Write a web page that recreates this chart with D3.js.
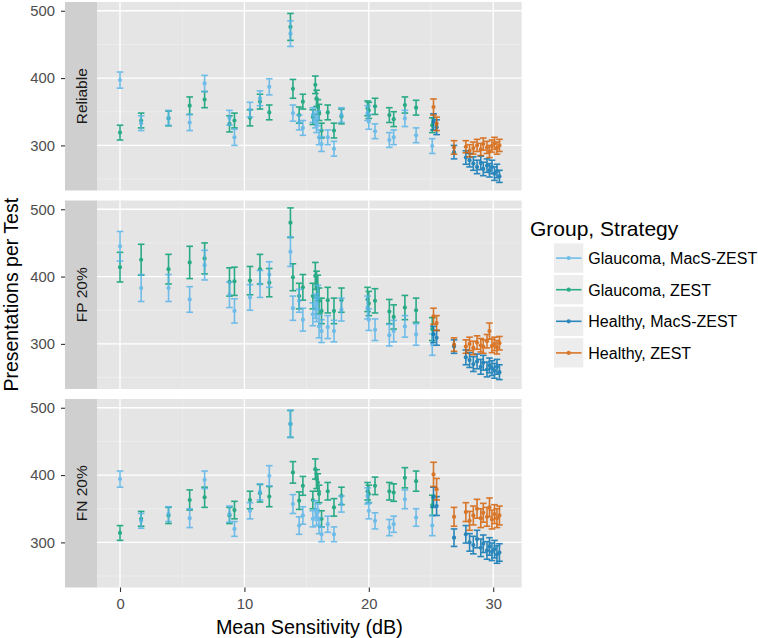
<!DOCTYPE html>
<html><head><meta charset="utf-8">
<script src="https://cdn.jsdelivr.net/npm/d3@7"></script>
<style>body{margin:0;background:#fff}svg{display:block;font-family:"Liberation Sans",Arial,Helvetica,sans-serif}</style>
</head><body><svg id="c" width="758" height="638"></svg>
<script>
const panels = ["Reliable", "FP 20%", "FN 20%"];
const groups = ["Glaucoma, MacS-ZEST", "Glaucoma, ZEST", "Healthy, MacS-ZEST", "Healthy, ZEST"];
const colors = ["#56B4E9", "#009E73", "#0072B2", "#D55E00"];
const drawOrder = [1, 0, 2, 3];
const xTicks = [0, 10, 20, 30];
const xMinor = [5, 15, 25];
const yTicks = [300, 400, 500];
const yMinor = [250, 350, 450];

// Mean sensitivity (dB) per subject
const glaucomaSens = [0, 1.7, 3.9, 5.6, 6.8, 8.8, 9.2, 10.45, 11.25, 12.0, 13.7, 13.9, 14.4, 14.7, 15.5, 15.7, 15.8, 15.9, 16.0, 16.2, 16.7, 17.2, 17.8, 19.9, 20.0, 20.5, 21.65, 22.0, 22.9, 23.8, 25.1];
const healthySens = [25.2, 25.45, 26.85, 27.8, 28.1, 28.4, 28.7, 29.0, 29.2, 29.5, 29.7, 29.9, 30.1, 30.3, 30.5];

// Reliable
const glaMacsReliable = [397, 333, 341, 334, 392, 341, 312, 353, 370, 387, 466, 348, 334, 326, 345, 337, 331, 340, 312, 302, 312, 295, 345, 348, 335, 321, 308, 312, 340, 315, 299];
const glaZestReliable = [319, 337, 340, 359, 368, 332, 337, 341, 365, 349, 476, 384, 345, 365, 342, 390, 370, 357, 349, 322, 349, 322, 343, 355, 352, 358, 345, 339, 360, 356, 330];
const heaMacsReliable = [335, 327, 290, 282, 278, 273, 268, 274, 265, 270, 263, 268, 258, 262, 254];
const heaZestReliable = [357, 332, 297, 298, 292, 296, 300, 294, 302, 297, 291, 299, 303, 296, 300];
// FP 20%
const glaMacsFP = [445, 383, 383, 366, 417, 373, 349, 369, 389, 403, 437, 353, 364, 336, 344, 356, 351, 369, 326, 319, 325, 319, 351, 354, 336, 321, 313, 319, 326, 314, 299];
const glaZestFP = [414, 425, 411, 421, 427, 392, 393, 394, 411, 391, 480, 399, 371, 384, 371, 401, 388, 383, 364, 349, 365, 349, 365, 366, 360, 364, 348, 340, 354, 350, 322];
const heaMacsFP = [314, 309, 296, 280, 276, 270, 274, 266, 272, 262, 268, 264, 260, 266, 258];
const heaZestFP = [341, 331, 299, 296, 300, 294, 302, 298, 296, 304, 319, 297, 300, 295, 301];
// FN 20%
const glaMacsFN = [394, 332, 342, 336, 393, 342, 320, 347, 375, 399, 476, 357, 325, 340, 335, 349, 337, 345, 325, 312, 327, 312, 357, 369, 347, 332, 322, 327, 364, 337, 325];
const glaZestFN = [314, 335, 340, 363, 367, 340, 348, 363, 373, 368, 476, 404, 362, 384, 363, 409, 394, 389, 372, 335, 376, 352, 369, 376, 372, 384, 376, 374, 396, 391, 355];
const heaMacsFN = [367, 354, 307, 312, 300, 296, 305, 292, 298, 288, 294, 286, 290, 282, 285];
const heaZestFN = [401, 379, 338, 345, 332, 340, 350, 336, 344, 338, 352, 334, 342, 336, 340];

// Error-bar half widths
const glaMacsReliableErr = [12,11,11,12,12,11,12,11,11,12,19,12,11,11,11,11,12,11,11,11,11,11,11,11,11,11,11,11,12,11,11];
const glaZestReliableErr = [11,11,11,13,12,12,11,12,11,11,20,14,12,11,11,13,12,11,12,11,11,11,11,11,12,12,11,11,12,11,11];
const heaMacsReliableErr = [12,11,10,10,10,10,10,10,10,10,10,10,10,10,9];
const heaZestReliableErr = [12,10,10,9,9,9,9,9,9,9,9,9,9,9,9];
const glaMacsFPErr = [22,20,20,19,22,19,18,19,20,19,22,18,17,17,17,18,18,18,17,17,17,16,17,17,16,16,16,16,16,16,16];
const glaZestFPErr = [22,23,22,24,23,21,21,21,22,21,22,20,19,19,19,20,20,19,19,19,19,19,18,18,18,18,18,18,18,18,17];
const heaMacsFPErr = [12,11,10,11,11,11,11,11,11,11,11,11,11,11,11];
const heaZestFPErr = [12,11,10,10,10,10,10,10,10,10,12,10,10,10,10];
const glaMacsFNErr = [12,11,11,14,13,12,11,12,12,15,20,14,13,13,12,13,12,12,12,11,12,11,12,12,12,12,12,12,14,13,15];
const glaZestFNErr = [11,11,12,15,15,12,13,13,13,15,20,16,13,14,13,15,14,13,13,12,13,13,13,13,13,13,13,13,15,15,15];
const heaMacsFNErr = [15,14,13,13,13,13,13,13,13,13,13,13,13,13,13];
const heaZestFNErr = [18,16,14,14,14,14,14,14,14,14,14,14,14,14,14];

const panelData = [
  [[glaucomaSens, glaMacsReliable, glaMacsReliableErr], [glaucomaSens, glaZestReliable, glaZestReliableErr], [healthySens, heaMacsReliable, heaMacsReliableErr], [healthySens, heaZestReliable, heaZestReliableErr]],
  [[glaucomaSens, glaMacsFP, glaMacsFPErr], [glaucomaSens, glaZestFP, glaZestFPErr], [healthySens, heaMacsFP, heaMacsFPErr], [healthySens, heaZestFP, heaZestFPErr]],
  [[glaucomaSens, glaMacsFN, glaMacsFNErr], [glaucomaSens, glaZestFN, glaZestFNErr], [healthySens, heaMacsFN, heaMacsFNErr], [healthySens, heaZestFN, heaZestFNErr]]
];

const svg = d3.select("#c");
const PL = 97, PR = 521.7, PH = 188.5;
const tops = [2, 200.5, 399];
const x = d3.scaleLinear().domain([-1.85, 32.29]).range([PL, PR]);
const y = d3.scaleLinear().domain([233, 513]).range([PH, 0]);
const alpha = 0.82;

panels.forEach((name, pi) => {
  const g = svg.append("g").attr("transform", `translate(0,${tops[pi]})`);
  g.append("rect").attr("x", PL).attr("y", 0).attr("width", PR - PL).attr("height", PH).attr("fill", "#E5E5E5");
  g.selectAll(".ym").data(yMinor).join("line").attr("x1", PL).attr("x2", PR)
    .attr("y1", d => y(d)).attr("y2", d => y(d)).attr("stroke", "#F2F2F2").attr("stroke-width", 0.6);
  g.selectAll(".xm").data(xMinor).join("line").attr("y1", 0).attr("y2", PH)
    .attr("x1", d => x(d)).attr("x2", d => x(d)).attr("stroke", "#F2F2F2").attr("stroke-width", 0.6);
  g.selectAll(".yM").data(yTicks).join("line").attr("x1", PL).attr("x2", PR)
    .attr("y1", d => y(d)).attr("y2", d => y(d)).attr("stroke", "#fff").attr("stroke-width", 1.3);
  g.selectAll(".xM").data(xTicks).join("line").attr("y1", 0).attr("y2", PH)
    .attr("x1", d => x(d)).attr("x2", d => x(d)).attr("stroke", "#fff").attr("stroke-width", 1.3);
  // strip
  g.append("rect").attr("x", 65).attr("y", 0).attr("width", PL - 65).attr("height", PH).attr("fill", "#CFCFCF");
  g.append("text").attr("transform", `translate(87,${PH / 2}) rotate(-90)`).attr("text-anchor", "middle")
    .attr("font-size", 15.5).attr("fill", "#1A1A1A").text(name);
  // y axis
  const ax = d3.axisLeft(y).tickValues(yTicks).tickSize(4).tickPadding(6);
  const ag = g.append("g").attr("transform", "translate(65,0)").call(ax);
  ag.select(".domain").remove();
  ag.selectAll(".tick line").attr("stroke", "#333").attr("stroke-width", 1.1);
  ag.selectAll(".tick text").attr("font-size", 14.8).attr("fill", "#4D4D4D").attr("font-family", "Liberation Sans, Arial, sans-serif");

  drawOrder.forEach(gi => {
    const [xs, vs, es] = panelData[pi][gi];
    const col = colors[gi];
    const sg = g.append("g").attr("opacity", alpha);
    xs.forEach((xv, i) => {
      const cx = x(xv), y1 = y(vs[i] - es[i]), y2 = y(vs[i] + es[i]);
      sg.append("line").attr("x1", cx).attr("x2", cx).attr("y1", y1).attr("y2", y2).attr("stroke", col).attr("stroke-width", 1.6);
      sg.append("line").attr("x1", cx - 3.3).attr("x2", cx + 3.3).attr("y1", y1).attr("y2", y1).attr("stroke", col).attr("stroke-width", 1.6);
      sg.append("line").attr("x1", cx - 3.3).attr("x2", cx + 3.3).attr("y1", y2).attr("y2", y2).attr("stroke", col).attr("stroke-width", 1.6);
      sg.append("circle").attr("cx", cx).attr("cy", y(vs[i])).attr("r", 2.1).attr("fill", col);
    });
  });
});

// x axis
const bottom = tops[2] + PH;
const xa = d3.axisBottom(x).tickValues(xTicks).tickSize(4.5).tickPadding(6.5).tickFormat(d3.format("d"));
const xg = svg.append("g").attr("transform", `translate(0,${bottom})`).call(xa);
xg.select(".domain").remove();
xg.selectAll(".tick line").attr("stroke", "#333").attr("stroke-width", 1.1);
xg.selectAll(".tick text").attr("font-size", 14.8).attr("fill", "#4D4D4D").attr("font-family", "Liberation Sans, Arial, sans-serif");

// axis titles
svg.append("text").attr("x", (PL + PR) / 2).attr("y", 634).attr("text-anchor", "middle")
  .attr("font-size", 19.8).attr("fill", "#000").text("Mean Sensitivity (dB)");
svg.append("text").attr("transform", `translate(17.5,${(tops[0] + bottom) / 2}) rotate(-90)`).attr("text-anchor", "middle")
  .attr("font-size", 19.5).attr("fill", "#000").text("Presentations per Test");

// legend
const lg = svg.append("g");
lg.append("text").attr("x", 530).attr("y", 236).attr("font-size", 21).attr("fill", "#000").text("Group, Strategy");
groups.forEach((name, i) => {
  const cy = 258.1 + i * 31.6;
  lg.append("rect").attr("x", 554).attr("y", cy - 14.7).attr("width", 29.3).attr("height", 29.3).attr("fill", "#EDEDED");
  const k = lg.append("g").attr("opacity", alpha);
  k.append("line").attr("x1", 556).attr("x2", 581.5).attr("y1", cy).attr("y2", cy).attr("stroke", colors[i]).attr("stroke-width", 1.6);
  k.append("circle").attr("cx", 568.7).attr("cy", cy).attr("r", 2.1).attr("fill", colors[i]);
  lg.append("text").attr("x", 588.3).attr("y", cy + 5.8).attr("font-size", 16).attr("fill", "#000").text(name);
});
</script>
</body></html>
